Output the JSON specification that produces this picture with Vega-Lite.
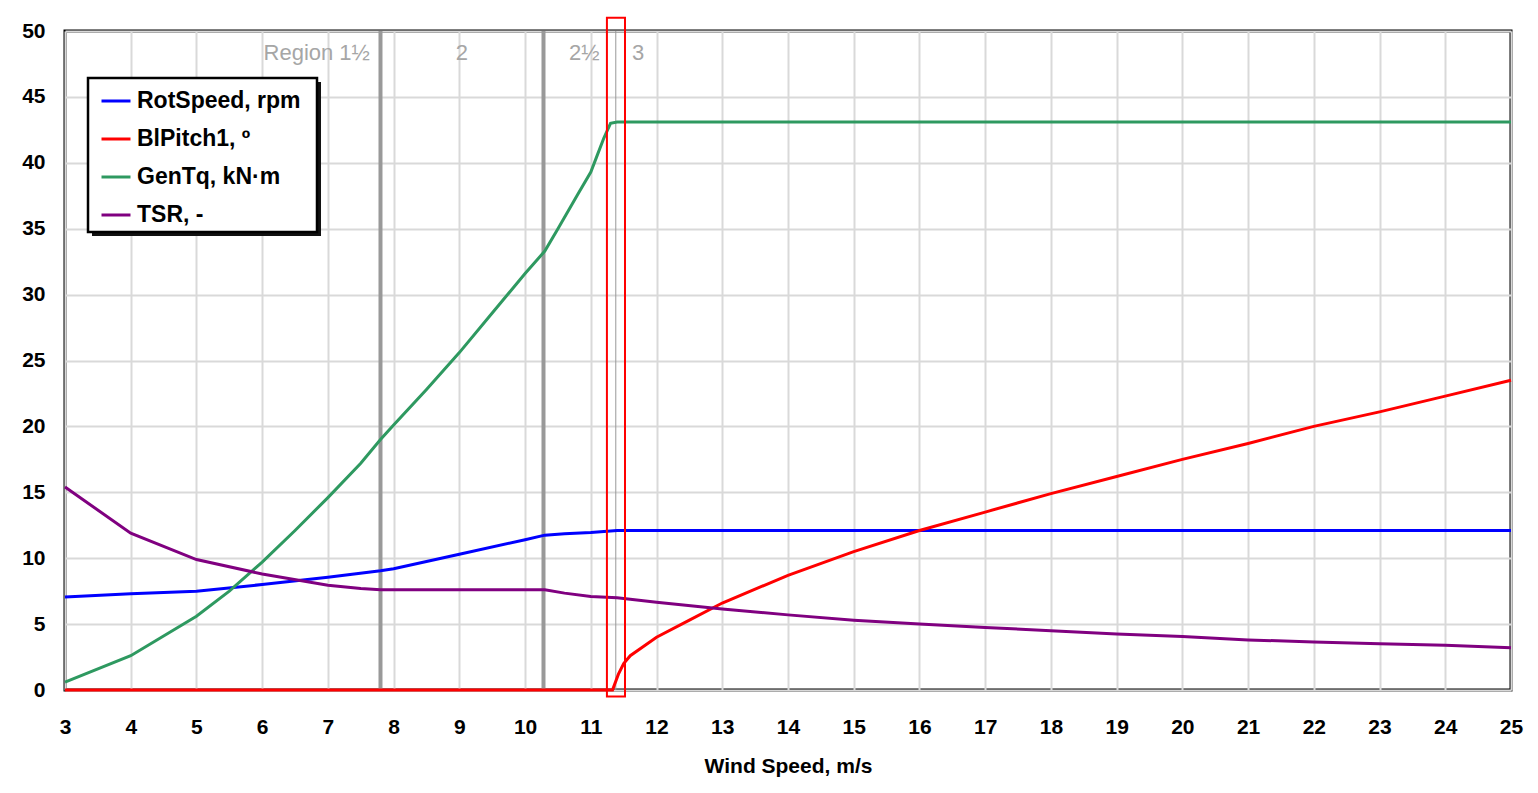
{
  "$schema": "https://vega.github.io/schema/vega-lite/v6.json",
  "autosize": {"type": "none"},
  "width": 1446,
  "height": 659,
  "padding": {"left": 65, "top": 31, "right": 27, "bottom": 103},
  "background": "white",
  "config": {
    "font": "Liberation Sans",
    "view": {"stroke": "black", "strokeWidth": 3},
    "axis": {"gridColor": "#d9d9d9", "gridWidth": 2, "domain": false, "ticks": false, "labelFont": "Liberation Sans", "labelFontWeight": "bold", "labelFontSize": 21, "labelColor": "black", "titleFont": "Liberation Sans", "titleFontWeight": "bold", "titleFontSize": 21, "titleColor": "black"}
  },
  "datasets": {
    "series": [
      {"s": "RotSpeed, rpm", "x": 3, "y": 7.05},
      {"s": "RotSpeed, rpm", "x": 4, "y": 7.3},
      {"s": "RotSpeed, rpm", "x": 5, "y": 7.5},
      {"s": "RotSpeed, rpm", "x": 6, "y": 8.0},
      {"s": "RotSpeed, rpm", "x": 7, "y": 8.55},
      {"s": "RotSpeed, rpm", "x": 7.8, "y": 9.05},
      {"s": "RotSpeed, rpm", "x": 8, "y": 9.2},
      {"s": "RotSpeed, rpm", "x": 9, "y": 10.3},
      {"s": "RotSpeed, rpm", "x": 10, "y": 11.4},
      {"s": "RotSpeed, rpm", "x": 10.3, "y": 11.75},
      {"s": "RotSpeed, rpm", "x": 10.6, "y": 11.85},
      {"s": "RotSpeed, rpm", "x": 11, "y": 11.95},
      {"s": "RotSpeed, rpm", "x": 11.4, "y": 12.1},
      {"s": "RotSpeed, rpm", "x": 12, "y": 12.1},
      {"s": "RotSpeed, rpm", "x": 25, "y": 12.1},
      {"s": "BlPitch1, º", "x": 3, "y": 0},
      {"s": "BlPitch1, º", "x": 11.33, "y": 0},
      {"s": "BlPitch1, º", "x": 11.42, "y": 1.2},
      {"s": "BlPitch1, º", "x": 11.5, "y": 2.0},
      {"s": "BlPitch1, º", "x": 11.6, "y": 2.6},
      {"s": "BlPitch1, º", "x": 11.8, "y": 3.3},
      {"s": "BlPitch1, º", "x": 12, "y": 4.0},
      {"s": "BlPitch1, º", "x": 12.5, "y": 5.3},
      {"s": "BlPitch1, º", "x": 13, "y": 6.6},
      {"s": "BlPitch1, º", "x": 14, "y": 8.7},
      {"s": "BlPitch1, º", "x": 15, "y": 10.5},
      {"s": "BlPitch1, º", "x": 16, "y": 12.1},
      {"s": "BlPitch1, º", "x": 17, "y": 13.5},
      {"s": "BlPitch1, º", "x": 18, "y": 14.9},
      {"s": "BlPitch1, º", "x": 19, "y": 16.2},
      {"s": "BlPitch1, º", "x": 20, "y": 17.5},
      {"s": "BlPitch1, º", "x": 21, "y": 18.7},
      {"s": "BlPitch1, º", "x": 22, "y": 20.0},
      {"s": "BlPitch1, º", "x": 23, "y": 21.1},
      {"s": "BlPitch1, º", "x": 24, "y": 22.3},
      {"s": "BlPitch1, º", "x": 25, "y": 23.5},
      {"s": "GenTq, kN·m", "x": 3, "y": 0.6},
      {"s": "GenTq, kN·m", "x": 4, "y": 2.6},
      {"s": "GenTq, kN·m", "x": 5, "y": 5.6},
      {"s": "GenTq, kN·m", "x": 5.5, "y": 7.5},
      {"s": "GenTq, kN·m", "x": 6, "y": 9.7},
      {"s": "GenTq, kN·m", "x": 6.5, "y": 12.1},
      {"s": "GenTq, kN·m", "x": 7, "y": 14.6},
      {"s": "GenTq, kN·m", "x": 7.5, "y": 17.2},
      {"s": "GenTq, kN·m", "x": 7.8, "y": 19.0},
      {"s": "GenTq, kN·m", "x": 8, "y": 20.1},
      {"s": "GenTq, kN·m", "x": 8.5, "y": 22.8},
      {"s": "GenTq, kN·m", "x": 9, "y": 25.6},
      {"s": "GenTq, kN·m", "x": 9.5, "y": 28.6},
      {"s": "GenTq, kN·m", "x": 10, "y": 31.6},
      {"s": "GenTq, kN·m", "x": 10.3, "y": 33.3},
      {"s": "GenTq, kN·m", "x": 10.5, "y": 35.0},
      {"s": "GenTq, kN·m", "x": 10.8, "y": 37.6},
      {"s": "GenTq, kN·m", "x": 11, "y": 39.3},
      {"s": "GenTq, kN·m", "x": 11.1, "y": 40.6},
      {"s": "GenTq, kN·m", "x": 11.2, "y": 41.9},
      {"s": "GenTq, kN·m", "x": 11.3, "y": 43.0},
      {"s": "GenTq, kN·m", "x": 11.4, "y": 43.1},
      {"s": "GenTq, kN·m", "x": 25, "y": 43.1},
      {"s": "TSR, -", "x": 3, "y": 15.4},
      {"s": "TSR, -", "x": 4, "y": 11.9},
      {"s": "TSR, -", "x": 5, "y": 9.9},
      {"s": "TSR, -", "x": 6, "y": 8.8},
      {"s": "TSR, -", "x": 7, "y": 7.95},
      {"s": "TSR, -", "x": 7.5, "y": 7.7},
      {"s": "TSR, -", "x": 7.8, "y": 7.6},
      {"s": "TSR, -", "x": 10.3, "y": 7.6},
      {"s": "TSR, -", "x": 10.6, "y": 7.35},
      {"s": "TSR, -", "x": 11, "y": 7.1},
      {"s": "TSR, -", "x": 11.4, "y": 7.0},
      {"s": "TSR, -", "x": 12, "y": 6.65},
      {"s": "TSR, -", "x": 13, "y": 6.15},
      {"s": "TSR, -", "x": 14, "y": 5.7},
      {"s": "TSR, -", "x": 15, "y": 5.3},
      {"s": "TSR, -", "x": 16, "y": 5.0},
      {"s": "TSR, -", "x": 17, "y": 4.75},
      {"s": "TSR, -", "x": 18, "y": 4.5},
      {"s": "TSR, -", "x": 19, "y": 4.25},
      {"s": "TSR, -", "x": 20, "y": 4.05},
      {"s": "TSR, -", "x": 21, "y": 3.8},
      {"s": "TSR, -", "x": 22, "y": 3.65},
      {"s": "TSR, -", "x": 23, "y": 3.5},
      {"s": "TSR, -", "x": 24, "y": 3.4},
      {"s": "TSR, -", "x": 25, "y": 3.2}
    ],
    "regions": [
      {"x": 7.8, "w": 3},
      {"x": 10.28, "w": 3},
      {"x": 11.38, "w": 2}
    ],
    "labels": [
      {"t": "Region 1½", "x": 6.83, "y": 48.3},
      {"t": "2", "x": 9.04, "y": 48.3},
      {"t": "2½", "x": 10.9, "y": 48.3},
      {"t": "3", "x": 11.72, "y": 48.3}
    ],
    "box": [{"x": 11.245, "x2": 11.52, "y": -0.5, "y2": 51}],
    "legendShadow": [{"x": 3.411, "x2": 6.895, "y": 46.13, "y2": 34.45}],
    "legendFrame": [{"x": 3.35, "x2": 6.834, "y": 46.43, "y2": 34.75}]
  },
  "layer": [
    {
      "data": {"name": "regions"},
      "mark": {"type": "rule", "color": "#999999"},
      "encoding": {
        "x": {"field": "x", "type": "quantitative", "scale": {"domain": [3, 25], "nice": false, "zero": false}, "axis": {"title": "Wind Speed, m/s", "format": "d", "values": [3,4,5,6,7,8,9,10,11,12,13,14,15,16,17,18,19,20,21,22,23,24,25], "labelPadding": 26, "titlePadding": 18, "labelFlush": false}},
        "strokeWidth": {"field": "w", "type": "quantitative", "scale": {"type": "identity"}, "legend": null}
      }
    },
    {
      "data": {"name": "labels"},
      "mark": {"type": "text", "color": "#a6a6a6", "fontSize": 22, "font": "Liberation Sans"},
      "encoding": {
        "x": {"field": "x", "type": "quantitative"},
        "y": {"field": "y", "type": "quantitative"},
        "text": {"field": "t"}
      }
    },
    {
      "data": {"name": "series"},
      "mark": {"type": "line", "strokeWidth": 3},
      "encoding": {
        "x": {"field": "x", "type": "quantitative"},
        "y": {"field": "y", "type": "quantitative", "scale": {"domain": [0, 50], "nice": false}, "axis": {"title": null, "values": [0,5,10,15,20,25,30,35,40,45,50], "labelPadding": 20, "labelFlush": false}},
        "color": {
          "field": "s", "type": "nominal",
          "scale": {"domain": ["RotSpeed, rpm", "BlPitch1, º", "GenTq, kN·m", "TSR, -"], "range": ["#0000ff", "#ff0000", "#2e9960", "#800080"]},
          "sort": null,
          "legend": {
            "title": null, "orient": "none", "legendX": 35, "legendY": 54,
            "padding": 0, "symbolType": "stroke", "symbolSize": 841, "symbolStrokeWidth": 3,
            "labelFont": "Liberation Sans", "labelFontWeight": "bold", "labelFontSize": 23, "labelColor": "black",
            "rowPadding": 10, "labelOffset": 5, "labelLimit": 300
          }
        }
      }
    },
    {
      "data": {"name": "legendShadow"},
      "mark": {"type": "rect", "fill": "#111111"},
      "encoding": {
        "x": {"field": "x", "type": "quantitative"},
        "x2": {"field": "x2"},
        "y": {"field": "y", "type": "quantitative"},
        "y2": {"field": "y2"}
      }
    },
    {
      "data": {"name": "legendFrame"},
      "mark": {"type": "rect", "fill": "white", "stroke": "black", "strokeWidth": 2.5},
      "encoding": {
        "x": {"field": "x", "type": "quantitative"},
        "x2": {"field": "x2"},
        "y": {"field": "y", "type": "quantitative"},
        "y2": {"field": "y2"}
      }
    },
    {
      "data": {"name": "box"},
      "mark": {"type": "rect", "fill": null, "stroke": "#ff0000", "strokeWidth": 2, "clip": false},
      "encoding": {
        "x": {"field": "x", "type": "quantitative"},
        "x2": {"field": "x2"},
        "y": {"field": "y", "type": "quantitative"},
        "y2": {"field": "y2"}
      }
    }
  ]
}
